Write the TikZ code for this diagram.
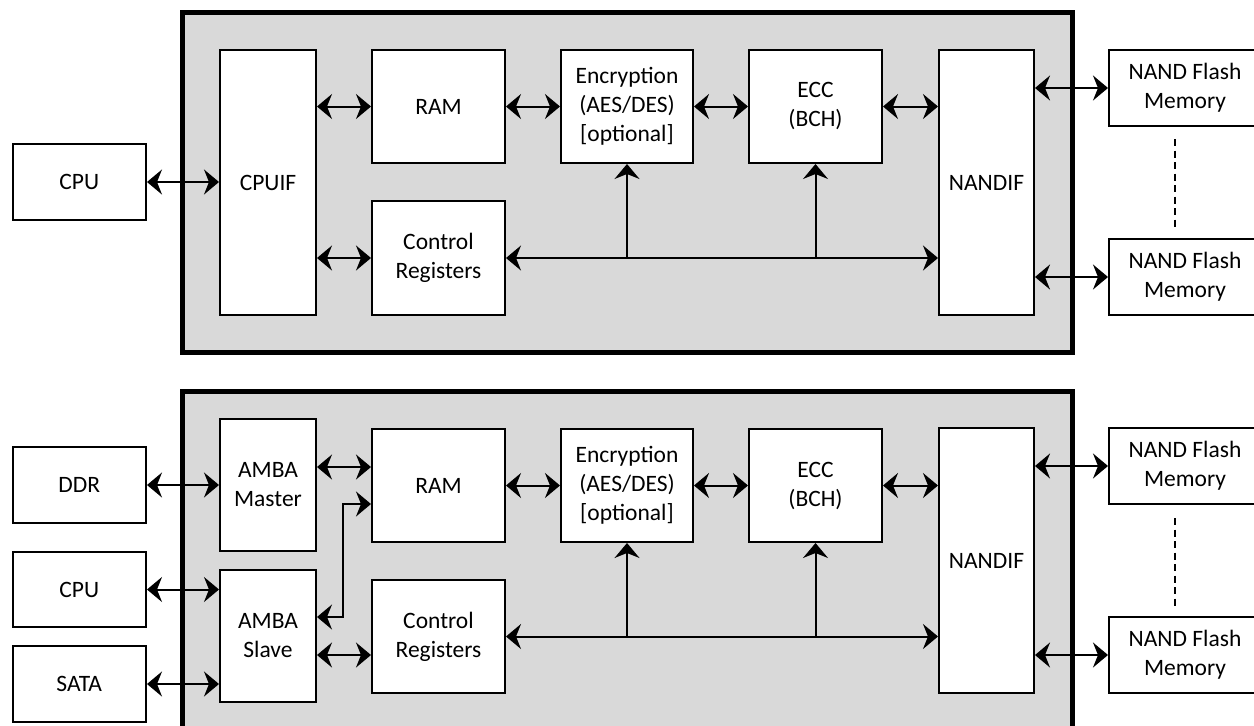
\documentclass[tikz,border=0pt]{standalone}
\usepackage{fontspec}
\setmainfont{Carlito}
\usetikzlibrary{arrows.meta}
\definecolor{panelgray}{HTML}{D9D9D9}
\begin{document}
\begin{tikzpicture}[x=1pt,y=-1pt,
  blk/.style={draw, fill=white, line width=2pt, inner sep=0pt, align=center,
    font=\fontsize{23.5}{29}\selectfont},
  tipA/.tip={Stealth[length=15pt,width=25pt,inset=5pt]},
  bi/.style={line width=2pt, tipA-tipA},
  uni/.style={line width=2pt, -tipA},
  panel/.style={draw, fill=panelgray, line width=5pt},
  dashline/.style={line width=2pt, dash pattern=on 7pt off 4.5pt}]
\useasboundingbox (0,0) rectangle (1254,726);
\clip (0,0) rectangle (1254,726);

% ================= top panel =================
\draw[panel] (182,12) rectangle (1072,352);
\node[blk, minimum width=133.5pt, minimum height=76pt]  (cpu)    at (79.25,182) {CPU};
\node[blk, minimum width=96pt,    minimum height=265pt] (cpuif)  at (268,182.5) {CPUIF};
\node[blk, minimum width=133pt,   minimum height=113pt] (ram)    at (438.5,106.5) {RAM};
\node[blk, minimum width=133pt,   minimum height=114pt] (ctrl)   at (438.5,258) {Control\\Registers};
\node[blk, minimum width=132pt,   minimum height=113pt] (enc)    at (627,106.5) {Encryption\\(AES/DES)\\{[optional]}};
\node[blk, minimum width=133pt,   minimum height=113pt] (ecc)    at (815.5,106.5) {ECC\\(BCH)};
\node[blk, minimum width=95pt,    minimum height=265pt] (nandif) at (986.5,182.5) {NANDIF};
\node[blk, minimum width=152pt,   minimum height=76pt]  (nfa)    at (1185,88) {NAND Flash\\Memory};
\node[blk, minimum width=152pt,   minimum height=76pt]  (nfb)    at (1185,277) {NAND Flash\\Memory};

\draw[bi] (cpu.east) -- (cpuif.west |- cpu.east);
\draw[bi] (cpuif.east |- ram.west) -- (ram.west);
\draw[bi] (cpuif.east |- ctrl.west) -- (ctrl.west);
\draw[bi] (ram.east) -- (enc.west);
\draw[bi] (enc.east) -- (ecc.west);
\draw[bi] (ecc.east) -- (nandif.west |- ecc.east);
\draw[bi] (ctrl.east) -- (nandif.west |- ctrl.east);
\draw[uni] (enc.south |- ctrl.east) -- (enc.south);
\draw[uni] (ecc.south |- ctrl.east) -- (ecc.south);
\draw[bi] (nandif.east |- nfa.west) -- (nfa.west);
\draw[bi] (nandif.east |- nfb.west) -- (nfb.west);
\coordinate (da1) at (1175,139);
\coordinate (da2) at (1175,230);
\draw[dashline] (da1) -- (da2);

% ================= bottom panel =================
\draw[panel] (182,391) rectangle (1072,745);
\node[blk, minimum width=133.5pt, minimum height=76pt]  (ddr)     at (79.25,485) {DDR};
\node[blk, minimum width=133.5pt, minimum height=75pt]  (cpub)    at (79.25,589.5) {CPU};
\node[blk, minimum width=133.5pt, minimum height=76pt]  (sata)    at (79.25,684) {SATA};
\node[blk, minimum width=96pt,    minimum height=132pt] (amaster) at (268,485) {AMBA\\Master};
\node[blk, minimum width=96pt,    minimum height=132pt] (aslave)  at (268,636) {AMBA\\Slave};
\node[blk, minimum width=133pt,   minimum height=113pt] (ramb)    at (438.5,485.5) {RAM};
\node[blk, minimum width=133pt,   minimum height=113pt] (ctrlb)   at (438.5,636.5) {Control\\Registers};
\node[blk, minimum width=132pt,   minimum height=113pt] (encb)    at (627,485.5) {Encryption\\(AES/DES)\\{[optional]}};
\node[blk, minimum width=133pt,   minimum height=113pt] (eccb)    at (815.5,485.5) {ECC\\(BCH)};
\node[blk, minimum width=95pt,    minimum height=265pt] (nandifb) at (986.5,560.5) {NANDIF};
\node[blk, minimum width=152pt,   minimum height=76pt]  (nfc)     at (1185,466) {NAND Flash\\Memory};
\node[blk, minimum width=152pt,   minimum height=76pt]  (nfd)     at (1185,655) {NAND Flash\\Memory};

\coordinate (ymr) at (0,467);
\coordinate (ysc) at (0,655);
\coordinate (b1) at (343,617);
\coordinate (b2) at (343,504);
\draw[bi] (ddr.east) -- (amaster.west |- ddr.east);
\draw[bi] (cpub.east) -- (aslave.west |- cpub.east);
\draw[bi] (sata.east) -- (aslave.west |- sata.east);
\draw[bi] (amaster.east |- ymr) -- (ramb.west |- ymr);
\draw[bi, line join=miter] (aslave.east |- b1) -- (b1) -- (b2) -- (ramb.west |- b2);
\draw[bi] (aslave.east |- ysc) -- (ctrlb.west |- ysc);
\draw[bi] (ramb.east) -- (encb.west);
\draw[bi] (encb.east) -- (eccb.west);
\draw[bi] (eccb.east) -- (nandifb.west |- eccb.east);
\draw[bi] (ctrlb.east) -- (nandifb.west |- ctrlb.east);
\draw[uni] (encb.south |- ctrlb.east) -- (encb.south);
\draw[uni] (eccb.south |- ctrlb.east) -- (eccb.south);
\draw[bi] (nandifb.east |- nfc.west) -- (nfc.west);
\draw[bi] (nandifb.east |- nfd.west) -- (nfd.west);
\coordinate (db1) at (1175,518);
\coordinate (db2) at (1175,608);
\draw[dashline] (db1) -- (db2);
\end{tikzpicture}
\end{document}
